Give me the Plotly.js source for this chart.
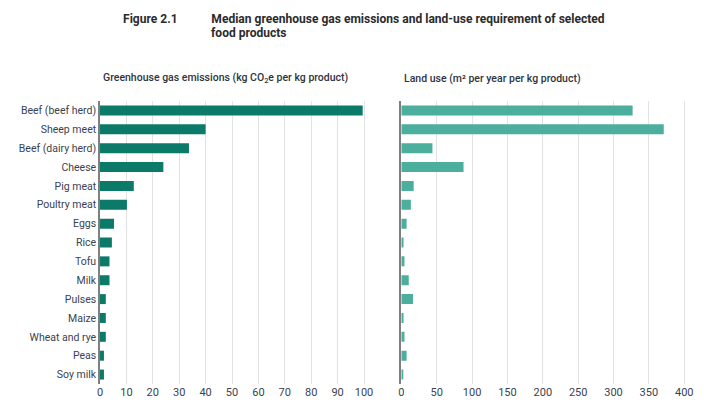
<!DOCTYPE html>
<html>
<head>
<meta charset="utf-8">
<script src="https://cdn.plot.ly/plotly-3.0.1.min.js"></script>
<style>
  html, body { margin: 0; padding: 0; background: #ffffff; }
  #chart { width: 710px; height: 412px; }
</style>
</head>
<body>
<div id="chart"></div>
<script>
// Food products, top to bottom
const products = [
  'Beef (beef herd)', 'Sheep meet', 'Beef (dairy herd)', 'Cheese', 'Pig meat',
  'Poultry meat', 'Eggs', 'Rice', 'Tofu', 'Milk',
  'Pulses', 'Maize', 'Wheat and rye', 'Peas', 'Soy milk'
];

// Median greenhouse gas emissions, kg CO2e per kg product
const ghgEmissions = [99.5, 40, 33.7, 24, 12.8, 10.2, 5.3, 4.5, 3.6, 3.6, 2.2, 2.2, 2.2, 1.5, 1.5];

// Median land use, m² per year per kg product
const landUse = [327, 371, 44, 88, 17.5, 13.5, 7.5, 3.2, 4.5, 10.5, 16.5, 3.2, 4.5, 7.5, 1.5];

// Axis ticks
const ghgTicks = [0, 10, 20, 30, 40, 50, 60, 70, 80, 90, 100];
const landTicks = [0, 50, 100, 150, 200, 250, 300, 350, 400];

const darkTeal = '#0c7a69';
const lightTeal = '#4cae9c';
const textColor = '#3b4250';
const gridColor = '#e2e2e2';
const W = 710;
const PLOT_TOP = 101, PLOT_H = 283;

// paper y coordinate for a pixel row above the plot area
function rowY(px) { return 1 + (PLOT_TOP - px) / PLOT_H; }

const traces = [
  {
    type: 'bar', orientation: 'h',
    x: ghgEmissions, y: products,
    xaxis: 'x', yaxis: 'y',
    marker: { color: darkTeal },
    hoverinfo: 'x+y'
  },
  {
    type: 'bar', orientation: 'h',
    x: landUse, y: products,
    xaxis: 'x2', yaxis: 'y2',
    marker: { color: lightTeal },
    hoverinfo: 'x+y'
  }
];

const baseX = {
  showgrid: true, gridcolor: gridColor, gridwidth: 1,
  zeroline: false, showline: false, ticks: '',
  tickmode: 'array',
  tickfont: { family: 'Roboto', size: 11, color: textColor },
  fixedrange: true
};

const baseY = {
  type: 'category',
  categoryorder: 'array', categoryarray: products,
  autorange: 'reversed',
  showgrid: false, zeroline: false,
  showline: true, linecolor: '#7f7f7f', linewidth: 1.5,
  ticks: '',
  fixedrange: true
};

const titleFont = { family: 'Roboto', size: 13, color: '#2b2b2b', weight: 700 };
const subFont = { family: 'Roboto', size: 10.5, color: '#2e3440', weight: 500 };

const layout = {
  width: 710, height: 412,
  margin: { l: 0, r: 0, t: PLOT_TOP, b: 412 - PLOT_TOP - PLOT_H },
  paper_bgcolor: '#ffffff', plot_bgcolor: '#ffffff',
  showlegend: false,
  bargap: 0.47,
  xaxis: Object.assign({}, baseX, {
    domain: [100 / W, 369.3 / W],
    range: [0, 102],
    tickvals: ghgTicks, ticktext: ghgTicks.map(String)
  }),
  xaxis2: Object.assign({}, baseX, {
    domain: [401.3 / W, 687.8 / W],
    range: [0, 405],
    tickvals: landTicks, ticktext: landTicks.map(String)
  }),
  yaxis: Object.assign({}, baseY, {
    anchor: 'x',
    showticklabels: true,
    tickfont: { family: 'Roboto', size: 10.5, color: textColor }
  }),
  yaxis2: Object.assign({}, baseY, {
    anchor: 'x2',
    showticklabels: false
  }),
  annotations: [
    {
      name: 'fig-label',
      text: 'Figure 2.1',
      xref: 'paper', yref: 'paper', x: 121 / W, y: rowY(19),
      xanchor: 'left', yanchor: 'middle', showarrow: false, font: titleFont
    },
    {
      name: 'title-1',
      text: 'Median greenhouse gas emissions and land-use requirement of selected',
      xref: 'paper', yref: 'paper', x: 209 / W, y: rowY(19),
      xanchor: 'left', yanchor: 'middle', showarrow: false, font: titleFont
    },
    {
      name: 'title-2',
      text: 'food products',
      xref: 'paper', yref: 'paper', x: 209 / W, y: rowY(32.5),
      xanchor: 'left', yanchor: 'middle', showarrow: false, font: titleFont
    },
    {
      text: 'Greenhouse gas emissions (kg CO<sub>2</sub>e per kg product)',
      xref: 'paper', yref: 'paper', x: 101 / W, y: rowY(78),
      xanchor: 'left', yanchor: 'middle', showarrow: false, font: subFont
    },
    {
      text: 'Land use (m² per year per kg product)',
      xref: 'paper', yref: 'paper', x: 402 / W, y: rowY(78),
      xanchor: 'left', yanchor: 'middle', showarrow: false, font: subFont
    }
  ]
};

// The figure heading is set in a narrow face: squeeze the title texts
// horizontally about their left edge so the first line spans 394px.
function condenseTitle() {
  const texts = document.querySelectorAll('#chart .annotation-text');
  const heading = [texts[0], texts[1], texts[2]];
  const firstLine = heading[1];
  if (!firstLine) return;
  const ratio = 394 / firstLine.getBBox().width;
  heading.forEach(function (t) {
    const bb = t.getBBox();
    t.setAttribute('transform',
      'translate(' + bb.x + ',0) scale(' + ratio + ',1) translate(' + (-bb.x) + ',0)');
  });
}

Plotly.newPlot('chart', traces, layout, { displayModeBar: false }).then(condenseTitle);
</script>
</body>
</html>
